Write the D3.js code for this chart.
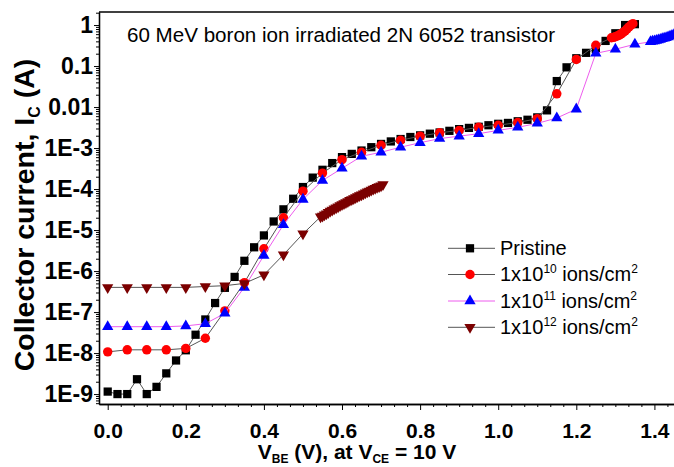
<!DOCTYPE html>
<html><head><meta charset="utf-8">
<script src="https://cdn.jsdelivr.net/npm/d3@7"></script>
<style>
body{margin:0;background:#fff;overflow:hidden;}
svg{display:block;}
text{font-family:"Liberation Sans",Arial,Helvetica,sans-serif;}
</style></head><body>
<svg id="chart" width="674" height="467"></svg>
<script>
// ---- data ----
const pristineV = [0,0.025,0.05,0.075,0.1,0.125,0.15,0.175,0.2,0.225,0.25,0.275,0.3,0.325,0.35,0.375,0.4,0.425,0.45,0.475,0.5,0.525,0.55,0.575,0.6,0.625,0.65,0.675,0.7,0.725,0.75,0.775,0.8,0.825,0.85,0.875,0.9,0.925,0.95,0.975,1.0,1.025,1.05,1.075,1.1,1.125,1.15,1.175,1.2,1.225,1.25,1.275,1.3,1.325,1.35];
const pristineI = [1.15e-9,1.0e-9,1.0e-9,2.3e-9,1.0e-9,1.5e-9,3.2e-9,6.6e-9,1.17e-8,2.8e-8,6.6e-8,1.66e-7,3.9e-7,7.2e-7,1.78e-6,3.8e-6,7.4e-6,1.62e-5,3.2e-5,5.8e-5,1.12e-4,1.9e-4,2.95e-4,4.3e-4,6.0e-4,7.2e-4,8.7e-4,1.05e-3,1.26e-3,1.45e-3,1.66e-3,1.86e-3,2.04e-3,2.24e-3,2.4e-3,2.63e-3,2.9e-3,3.1e-3,3.3e-3,3.6e-3,3.9e-3,4.1e-3,4.5e-3,4.9e-3,5.6e-3,8.3e-3,4.3e-2,9.3e-2,0.155,0.21,0.26,0.41,0.63,1.0,1.05];

const e10V = [0,0.05,0.1,0.15,0.2,0.25,0.3,0.35,0.4,0.45,0.5,0.55,0.6,0.65,0.7,0.75,0.8,0.85,0.9,0.95,1.0,1.05,1.1,1.15,1.2,1.25,1.29,1.295,1.3,1.305,1.31,1.315,1.32,1.325,1.33,1.335,1.34,1.345];
const e10I = [1.07e-8,1.2e-8,1.2e-8,1.2e-8,1.3e-8,2.3e-8,1.07e-7,5.2e-7,3.5e-6,2.0e-5,8.9e-5,2.45e-4,5.2e-4,7.9e-4,1.17e-3,1.55e-3,1.95e-3,2.35e-3,2.7e-3,3.2e-3,3.6e-3,4.2e-3,5.2e-3,2.1e-2,0.145,0.32,0.49,0.50,0.52,0.54,0.57,0.61,0.66,0.72,0.81,0.90,1.0,1.08];

const e11V = [0,0.05,0.1,0.15,0.2,0.25,0.3,0.35,0.4,0.45,0.5,0.55,0.6,0.65,0.7,0.75,0.8,0.85,0.9,0.95,1.0,1.05,1.1,1.15,1.2,1.25,1.3,1.35,1.39,1.395,1.40,1.405,1.41,1.415,1.42,1.425,1.43,1.435,1.44,1.445,1.45,1.455,1.46,1.465,1.47];
const e11I = [4.4e-8,4.4e-8,4.4e-8,4.4e-8,4.6e-8,5.2e-8,9.3e-8,4.0e-7,2.4e-6,1.35e-5,5.6e-5,1.62e-4,3.2e-4,6.3e-4,7.9e-4,1.05e-3,1.35e-3,1.7e-3,1.95e-3,2.24e-3,2.7e-3,3.2e-3,4.0e-3,5.4e-3,8.9e-3,0.204,0.257,0.34,0.39,0.40,0.41,0.42,0.43,0.445,0.46,0.475,0.49,0.51,0.53,0.555,0.58,0.60,0.62,0.64,0.66];

const e12V = [0,0.05,0.1,0.15,0.2,0.25,0.3,0.35,0.4,0.45,0.5,0.545,0.55,0.555,0.56,0.565,0.57,0.575,0.58,0.585,0.59,0.595,0.6,0.605,0.61,0.615,0.62,0.625,0.63,0.635,0.64,0.645,0.65,0.655,0.66,0.665,0.67,0.675,0.68,0.685,0.69,0.695,0.7,0.705];
const e12I = [4.0e-7,4.0e-7,4.0e-7,4.0e-7,4.0e-7,4.2e-7,4.4e-7,5.0e-7,8.1e-7,2.5e-6,8.1e-6,2.1e-5,2.2e-5,2.35e-5,2.5e-5,2.7e-5,2.9e-5,3.1e-5,3.3e-5,3.5e-5,3.7e-5,3.95e-5,4.2e-5,4.45e-5,4.7e-5,5.0e-5,5.3e-5,5.6e-5,5.9e-5,6.25e-5,6.6e-5,6.95e-5,7.3e-5,7.7e-5,8.1e-5,8.55e-5,9.0e-5,9.5e-5,1.0e-4,1.05e-4,1.1e-4,1.15e-4,1.2e-4,1.3e-4];

const xTickValues = [0,0.2,0.4,0.6,0.8,1.0,1.2,1.4];
const yTickValues = [1e-9,1e-8,1e-7,1e-6,1e-5,1e-4,1e-3,1e-2,1e-1,1];
const yTickLabels = ["1E-9","1E-8","1E-7","1E-6","1E-5","1E-4","1E-3","0.01","0.1","1"];
const seriesNames = ["Pristine","1x10|10","1x10|11","1x10|12"];

// ---- layout ----
const svg = d3.select("#chart");
const L = 99, T = 12, B = 404;
const x = d3.scaleLinear().domain([-0.0223, 1.55]).range([L, L + 1.5723 * 390.5]);
const y = d3.scaleLog().domain([Math.pow(10, -9.242), Math.pow(10, 0.318)]).range([B, T]);

// minor ticks
const xMinor = [];
for (let v = 0; v <= 1.55; v += 0.2 / 6) if (Math.abs(v / 0.2 - Math.round(v / 0.2)) > 1e-6) xMinor.push(v);
const yMinor = [];
for (let e = -10; e <= 0; e++) for (let k = 2; k <= 9; k++) { const v = k * Math.pow(10, e); if (v > y.domain()[0] && v < y.domain()[1]) yMinor.push(v); }

const gx = svg.append("g").attr("transform", `translate(0,${B})`);
gx.call(d3.axisBottom(x).tickValues(xMinor).tickSize(3).tickSizeOuter(0).tickFormat(""));
const gx2 = svg.append("g").attr("transform", `translate(0,${B})`);
gx2.call(d3.axisBottom(x).tickValues(xTickValues).tickSize(6).tickSizeOuter(0).tickPadding(13).tickFormat(d3.format(".1f")));
gx2.selectAll("text").attr("font-size", 21).attr("font-weight", "bold").attr("fill", "#000");

const gy = svg.append("g").attr("transform", `translate(${L},0)`);
gy.call(d3.axisLeft(y).tickValues(yMinor).tickSize(3).tickSizeOuter(0).tickFormat(""));
const gy2 = svg.append("g").attr("transform", `translate(${L},0)`);
gy2.call(d3.axisLeft(y).tickValues(yTickValues).tickSize(5).tickSizeOuter(0).tickPadding(1)
  .tickFormat((d, i) => yTickLabels[i]));
gy2.selectAll("text").attr("font-size", 23).attr("font-weight", "bold").attr("fill", "#000");
svg.selectAll(".domain").attr("stroke", "#000").attr("stroke-width", 1.3);
svg.selectAll(".tick line").attr("stroke", "#000");

// top border
svg.append("line").attr("x1", L).attr("x2", 674).attr("y1", T).attr("y2", T).attr("stroke", "#000").attr("stroke-width", 1.3);

// ---- series ----
const styles = [
  {V: pristineV, I: pristineI, line: "#555", fill: "#000", sym: d3.symbolSquare, size: 68, rot: 0},
  {V: e10V, I: e10I, line: "#555", fill: "#ff0000", sym: d3.symbolCircle, size: 70, rot: 0},
  {V: e11V, I: e11I, line: "#ee5cee", fill: "#0000ff", sym: d3.symbolTriangle, size: 55, rot: 0},
  {V: e12V, I: e12I, line: "#555", fill: "#7b0000", sym: d3.symbolTriangle, size: 55, rot: 180}
];
const lineGen = d3.line().x(d => x(d[0])).y(d => y(d[1]));
styles.forEach(s => {
  const pts = s.V.map((v, i) => [v, s.I[i]]);
  svg.append("path").datum(pts).attr("d", lineGen).attr("fill", "none").attr("stroke", s.line).attr("stroke-width", 1);
  svg.append("g").selectAll("path").data(pts).join("path")
    .attr("d", d3.symbol().type(s.sym).size(s.size))
    .attr("transform", d => `translate(${x(d[0])},${y(d[1])}) rotate(${s.rot})`)
    .attr("fill", s.fill);
});

// ---- title ----
svg.append("text").attr("x", 127).attr("y", 42).attr("font-size", 20.5).attr("fill", "#000")
  .attr("textLength", 428).attr("lengthAdjust", "spacingAndGlyphs")
  .text("60 MeV boron ion irradiated 2N 6052 transistor");

// ---- axis titles ----
const xt = svg.append("text").attr("x", 357).attr("y", 459).attr("text-anchor", "middle")
  .attr("font-size", 21).attr("font-weight", "bold").attr("fill", "#000");
xt.append("tspan").text("V");
xt.append("tspan").attr("font-size", 12).attr("dy", 4).text("BE");
xt.append("tspan").attr("dy", -4).text(" (V), at V");
xt.append("tspan").attr("font-size", 12).attr("dy", 4).text("CE");
xt.append("tspan").attr("dy", -4).text(" = 10 V");

const yt = svg.append("text").attr("transform", "translate(34,215) rotate(-90)").attr("text-anchor", "middle")
  .attr("font-size", 28.5).attr("font-weight", "bold").attr("fill", "#000");
yt.append("tspan").text("Collector current, I");
yt.append("tspan").attr("font-size", 16).attr("dy", 6).text("C");
yt.append("tspan").attr("dy", -6).text(" (A)");

// ---- legend ----
const legY = [248.3, 274.5, 301, 327.3];
styles.forEach((s, i) => {
  const g = svg.append("g");
  g.append("line").attr("x1", 448).attr("x2", 495).attr("y1", legY[i]).attr("y2", legY[i]).attr("stroke", s.line).attr("stroke-width", 1);
  g.append("path").attr("d", d3.symbol().type(s.sym).size(s.size))
    .attr("transform", `translate(470,${legY[i]}) rotate(${s.rot})`).attr("fill", s.fill);
  const t = g.append("text").attr("x", 500).attr("y", legY[i] + 6.5).attr("font-size", 20).attr("fill", "#000");
  const parts = seriesNames[i].split("|");
  t.append("tspan").text(parts[0]);
  if (parts[1]) {
    t.append("tspan").attr("font-size", 12).attr("dy", -8).text(parts[1]);
    t.append("tspan").attr("dy", 8).text(" ions/cm");
    t.append("tspan").attr("font-size", 12).attr("dy", -8).text("2");
  }
});
</script>
</body></html>
